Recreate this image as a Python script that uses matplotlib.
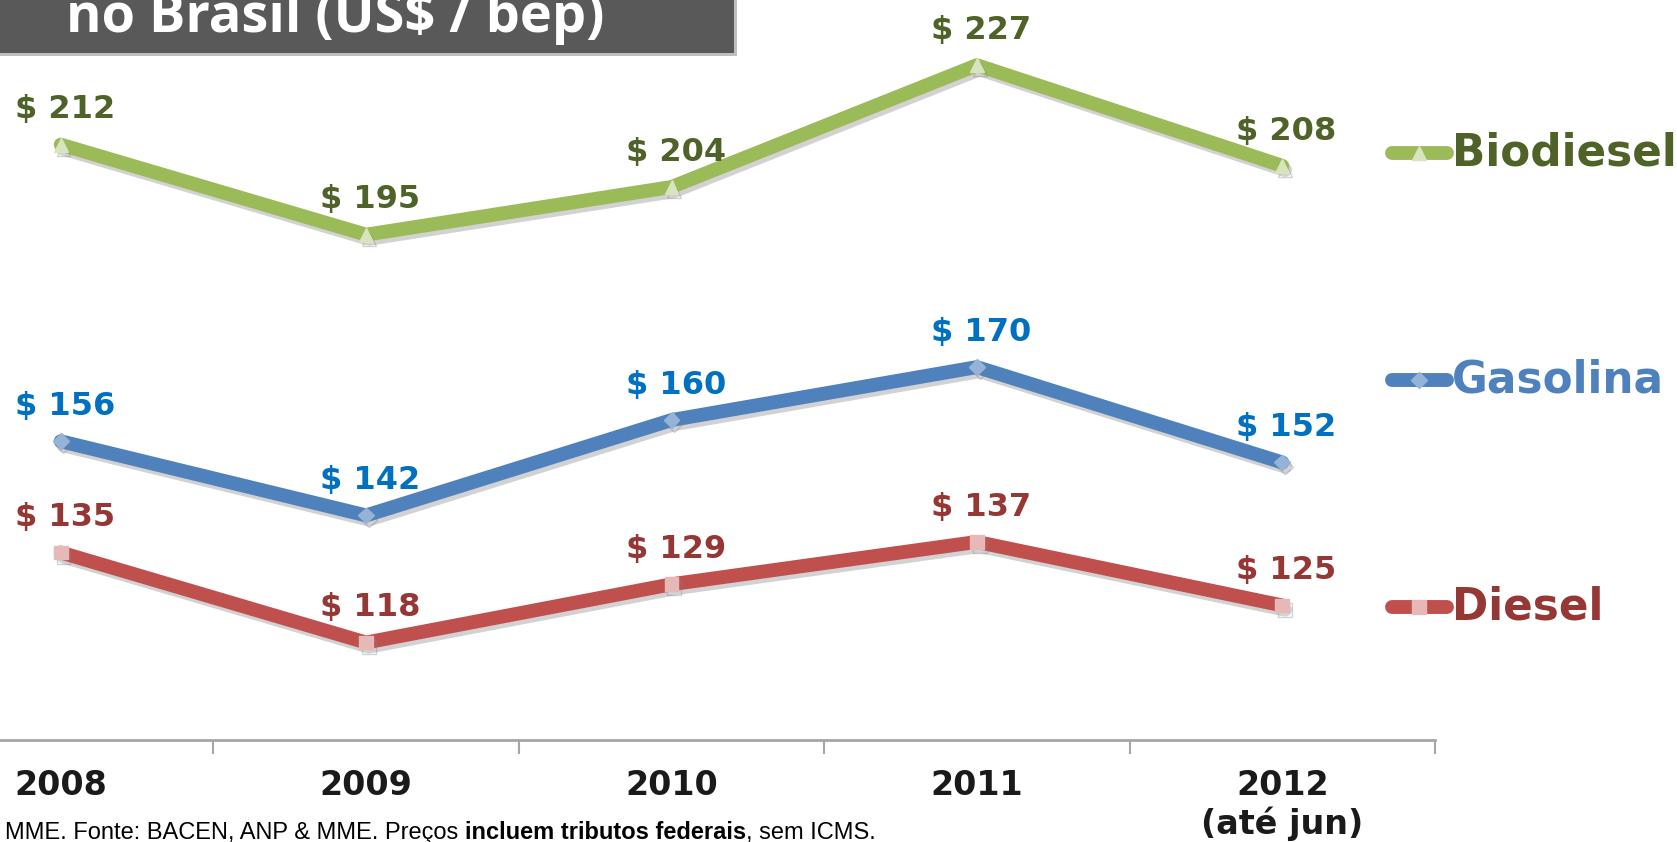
import matplotlib
matplotlib.use("Agg")
import matplotlib.pyplot as plt
import matplotlib.patheffects as pe
from matplotlib.lines import Line2D
from matplotlib.patches import Rectangle

years = ["2008", "2009", "2010", "2011", "2012\n(até jun)"]
biodiesel = [212, 195, 204, 227, 208]
gasolina = [156, 142, 160, 170, 152]
diesel = [135, 118, 129, 137, 125]

names = ["Biodiesel", "Gasolina", "Diesel"]
line_colors = ["#9BBB59", "#4F81BD", "#C0504D"]
marker_colors = ["#D7E4BD", "#95B3D7", "#E6B9B8"]
label_colors = ["#4F6228", "#0070C0", "#953735"]
legend_text_colors = ["#4F6228", "#4F81BD", "#953735"]
markers = ["^", "D", "s"]
legend_y = [0.818, 0.549, 0.279]

W, H = 1677, 842
fig = plt.figure(figsize=(W / 100, H / 100), dpi=100)
ax = fig.add_axes([-92 / W, 102 / H, 1527 / W, 1 - 102 / H])

bold = dict(family="DejaVu Sans", fontweight="bold")
shadow = [pe.SimpleLineShadow(offset=(2, -3), shadow_color="#808080", alpha=0.35), pe.Normal()]

x = list(range(len(years)))
for vals, lc, mc, tc, mk in zip([biodiesel, gasolina, diesel], line_colors,
                                marker_colors, label_colors, markers):
    ax.plot(x, vals, color=lc, lw=10, solid_capstyle="round", solid_joinstyle="round",
            marker=mk, ms=10 if mk != "D" else 8, mfc=mc, mec=mc, zorder=3,
            path_effects=shadow)
    for xi, v in zip(x, vals):
        ax.annotate(f"$ {v}", (xi, v), xytext=(3, 25), textcoords="offset points",
                    ha="center", va="center", color=tc, fontsize=23, **bold)

ax.set_xlim(-0.5, 4.5)
ax.set_ylim(99.6, 239.3)
for s in ["top", "right", "left"]:
    ax.spines[s].set_visible(False)
ax.spines["bottom"].set_color("#A6A6A6")
ax.spines["bottom"].set_linewidth(2)
ax.set_yticks([])
ax.set_xticks(x)
ax.set_xticklabels(years, fontsize=24, color="#1a1a1a", linespacing=1.15, **bold)
ax.tick_params(axis="x", which="major", length=0, pad=21)
ax.set_xticks([0.5, 1.5, 2.5, 3.5, 4.5], minor=True)
ax.tick_params(axis="x", which="minor", length=10, width=1.5, color="#A6A6A6")

# legend drawn by hand, right of the plot
for name, lc, mc, tc, mk, ly in zip(names, line_colors, marker_colors,
                                    legend_text_colors, markers, legend_y):
    fig.add_artist(Line2D([1392 / W, 1447 / W], [ly, ly], color=lc, lw=10,
                          solid_capstyle="round"))
    fig.add_artist(Line2D([1419 / W], [ly], marker=mk, ms=10 if mk != "D" else 8,
                          mfc=mc, mec=mc, lw=0))
    fig.text(1452 / W, ly, name, color=tc, fontsize=31.5, ha="left", va="center", **bold)

# title box, cut off at the top
fig.add_artist(Rectangle((0, 1 - 56 / H), 737 / W, 56 / H, transform=fig.transFigure,
                         facecolor="#BFBFBF", edgecolor="none"))
fig.add_artist(Rectangle((0, 1 - 53 / H), 734 / W, 53 / H, transform=fig.transFigure,
                         facecolor="#595959", edgecolor="none"))
fig.text(66 / W, 1 - 32 / H, "no Brasil (US$ / bep)", color="white", fontsize=39,
         family="Open Sans", fontweight="bold", ha="left", va="baseline")

# source note with bold middle part
renderer = fig.canvas.get_renderer()
note_font = dict(family="Liberation Sans", fontsize=17, color="black")
parts = [("MME. Fonte: BACEN, ANP & MME. Preços ", "normal"),
         ("incluem tributos federais", "bold"),
         (", sem ICMS.", "normal")]
xpos = 5 / W
for txt, wt in parts:
    t = fig.text(xpos, 1 - 839 / H, txt, fontweight=wt, ha="left", va="baseline", **note_font)
    bb = t.get_window_extent(renderer=renderer)
    xpos += bb.width / W

fig.savefig("out.png", dpi=100)
